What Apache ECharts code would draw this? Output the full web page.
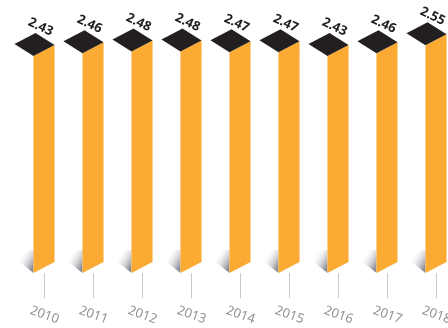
<!DOCTYPE html>
<html>
<head>
<meta charset="utf-8">
<script src="https://cdn.jsdelivr.net/npm/echarts@6/dist/echarts.min.js"></script>
<style>html,body{margin:0;padding:0;background:#fff}#c{width:448px;height:328px}</style>
</head>
<body>
<div id="c"></div>
<script>
const years = ['2010','2011','2012','2013','2014','2015','2016','2017','2018'];
const values = [2.43, 2.46, 2.48, 2.48, 2.47, 2.47, 2.43, 2.46, 2.55];

const chart = echarts.init(document.getElementById('c'));
const deg = Math.PI / 180;

function renderItem(params, api) {
  const i = api.value(0), v = api.value(1);
  const base = api.coord([i, 0]);
  const top = api.coord([i, v]);
  const band = api.size([1, 0])[0];
  const w = band * 0.43;
  const cx = base[0];
  const xL = cx - w / 2 - 0.5, xR = xL + w;
  const yB = base[1], yT = top[1];
  const s = 11;
  const dxl = 19, dyl = 12;
  return {
    type: 'group',
    children: [
      {
        type: 'polygon',
        shape: { points: [[xL, yB], [xL - 15, yB - 12], [xL - 6, yB - 23], [xL, yB - 23]] },
        style: {
          fill: new echarts.graphic.LinearGradient(1, 0.7, 0, 0.3, [
            { offset: 0, color: 'rgba(120,123,132,0.85)' },
            { offset: 1, color: 'rgba(255,255,255,0)' }
          ])
        }
      },
      {
        type: 'polygon',
        shape: { points: [[xL, yT], [xR, yT - s], [xR, yB - s], [xL, yB]] },
        style: { fill: '#FBAA33' }
      },
      {
        type: 'polygon',
        shape: { points: [[xL, yT], [xR, yT - s], [xR - dxl, yT - s - dyl], [xL - dxl, yT - dyl]] },
        style: { fill: '#231F20' }
      },
      {
        type: 'text',
        x: cx - 4, y: yT - 29,
        rotation: -25 * deg,
        style: {
          text: v.toFixed(2),
          font: 'bold 13px "Open Sans", sans-serif',
          fill: '#1e1e1e',
          align: 'center',
          verticalAlign: 'middle'
        }
      }
    ]
  };
}

chart.setOption({
  animation: false,
  grid: { left: 20, width: 441, top: 5, bottom: 55, outerBoundsMode: 'none', containLabel: false },
  xAxis: {
    type: 'category',
    data: years,
    offset: 6,
    axisLine: { show: false },
    axisTick: { show: true, alignWithLabel: true, length: 25, lineStyle: { color: '#c8c8c8', width: 1 } },
    axisLabel: {
      rotate: -20,
      align: 'center',
      verticalAlign: 'middle',
      margin: 36,
      color: '#8a8a8a',
      fontSize: 13,
      fontFamily: 'Open Sans',
      hideOverlap: false
    }
  },
  yAxis: { type: 'value', min: 0, max: 3, show: false },
  series: [{
    type: 'custom',
    renderItem: renderItem,
    data: values.map((v, i) => [i, v])
  }]
});
</script>
</body>
</html>
